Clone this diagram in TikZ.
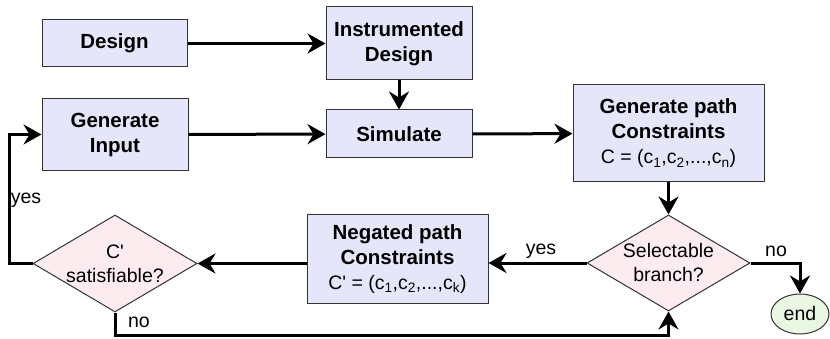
\documentclass[tikz,border=0pt]{standalone}
\usepackage{fontspec}
\setmainfont{Liberation Sans}
\usetikzlibrary{shapes.geometric,arrows.meta}
\definecolor{boxfill}{HTML}{E6E6FA}
\definecolor{diafill}{HTML}{FCEBEF}
\definecolor{endfill}{HTML}{E9F7E2}
\definecolor{edgecol}{HTML}{333333}
\newcommand{\basefont}{\fontsize{19.5}{24}\selectfont}
\newcommand{\titlefont}{\fontsize{20.5}{25}\selectfont\bfseries}
\newcommand{\apos}{\textquotesingle}
\tikzset{
  box/.style={draw=edgecol,line width=1pt,fill=boxfill,inner sep=0pt,align=center,font=\titlefont},
  dia/.style={diamond,draw=edgecol,line width=1pt,fill=diafill,inner sep=-6pt,align=center,aspect=1.7,font=\basefont},
  term/.style={ellipse,draw=edgecol,line width=1pt,fill=endfill,inner sep=0pt,minimum width=58pt,minimum height=40pt,font=\basefont},
  conn/.style={line width=3pt,-{Stealth[length=18pt,width=20pt,inset=6pt]}},
  lbl/.style={inner sep=0pt,font=\basefont}
}
\begin{document}
\begin{tikzpicture}[x=1pt,y=-1pt]
\useasboundingbox (0,0) rectangle (830,339);
\node[box,minimum width=145pt,minimum height=47pt] (design) at (114.5,43.5) {Design};
\node[box,minimum width=146pt,minimum height=73pt] (instr) at (399,43.5) {Instrumented\\Design};
\node[box,minimum width=146pt,minimum height=72pt] (geninput) at (115,134.5) {Generate\\Input};
\node[box,minimum width=146pt,minimum height=48pt] (simulate) at (399,134) {Simulate};
\node[box,minimum width=191pt,minimum height=97pt] (gpc) at (668.5,133.5) {Generate path\\Constraints\\{\normalfont\basefont C = (c\textsubscript{1},c\textsubscript{2},...,c\textsubscript{n})}};
\node[dia,minimum width=163pt,minimum height=96pt] (sel) at (668.5,263) {Selectable\\branch?};
\node[box,minimum width=181pt,minimum height=88pt] (neg) at (397.5,259) {Negated path\\Constraints\\{\normalfont\basefont C\apos{} = (c\textsubscript{1},c\textsubscript{2},...,c\textsubscript{k})}};
\node[dia,minimum width=164pt,minimum height=97pt] (csat) at (115,263.5) {C\apos\\satisfiable?};
\node[term] (end) at (800,314) {end};
\coordinate (yescorner) at (9,263.5);
\coordinate (nobottom) at (115,335);

\draw[conn] (design) -- (instr);
\draw[conn] (instr) -- (simulate);
\draw[conn] (geninput) -- (simulate);
\draw[conn] (simulate) -- (gpc);
\draw[conn] (gpc) -- (sel);
\draw[conn] (sel.west) -- (sel.west -| neg.east);
\draw[conn] (sel.east) -| (end.north);
\draw[conn] (csat.east -| neg.west) -- (csat.east);
\draw[conn] (csat.west) -- (csat.west -| yescorner) |- (geninput.west);
\draw[conn] (csat.south) -- (nobottom) -| (sel.south);

\node[lbl] (yes1) at (541,251) {yes};
\node[lbl] (no1) at (776,251) {no};
\node[lbl] (yes2) at (26,200) {yes};
\node[lbl] (no2) at (139,322) {no};
\end{tikzpicture}
\end{document}
